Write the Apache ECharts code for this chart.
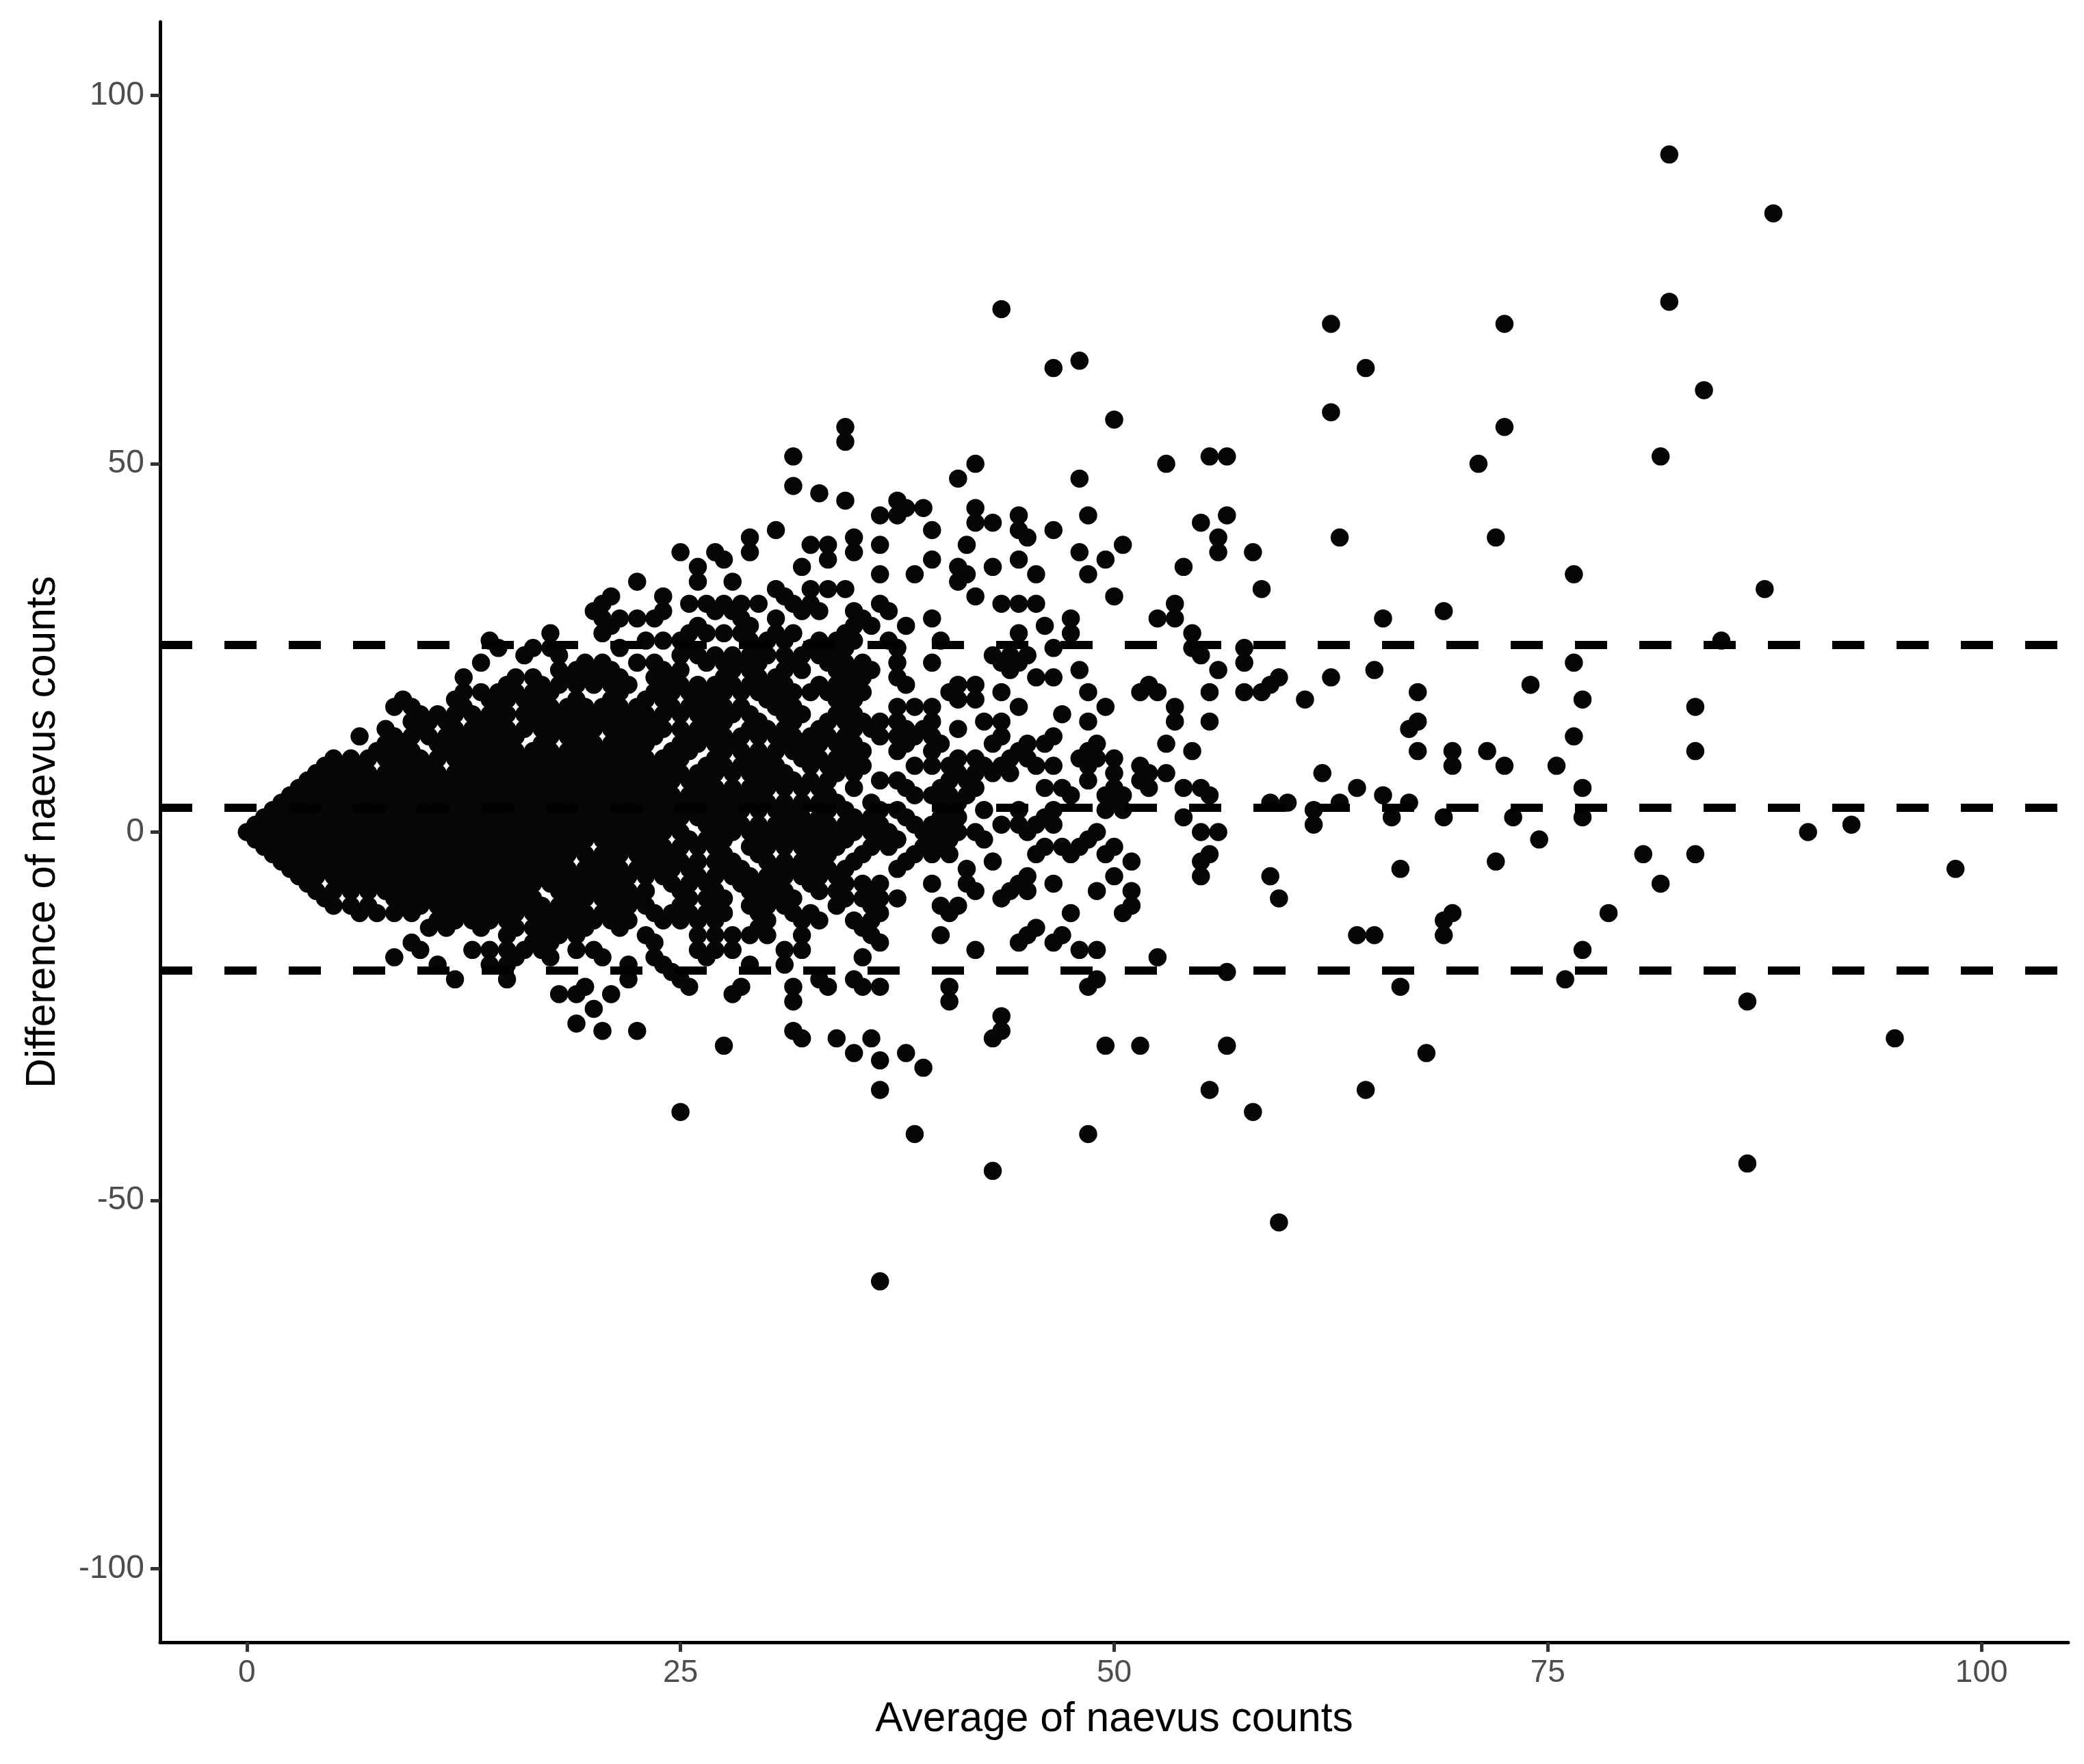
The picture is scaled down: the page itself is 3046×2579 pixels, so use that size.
<!DOCTYPE html>
<html><head><meta charset="utf-8">
<style>html,body{margin:0;padding:0;background:#fff}#c{width:3046px;height:2579px}</style>
<script src="https://cdn.jsdelivr.net/npm/echarts@6/dist/echarts.min.js"></script>
</head><body><div id="c"></div>
<script>
const xTicks=[0,25,50,75,100];
const yTicks=[-100,-50,0,50,100];
const xRange=[-5,105];
const yRange=[-110,110];
const xTitle='Average of naevus counts';
const yTitle='Difference of naevus counts';
const limits=[25.4,3.3,-18.8];
// Solid part of the cloud, read row by row: [difference, first average, last average]
const coreRows=[[16,10,32],[15,9.5,31.5],[14,8,31],[13,8.5,30.5],[12,8,31],[11,7.5,31.5],[10,5,35],[9,4.5,35.5],[8,4,35],[7,3.5,33.5],[6,3,33],[5,2.5,33.5],[4,2,34],[3,1.5,34.5],[2,1,35],[1,0.5,35.5],[0,0,36],[-1,0.5,34.5],[-2,1,34],[-3,1.5,34.5],[-4,2,33],[-5,2.5,34.5],[-6,3,33],[-7,3.5,32.5],[-8,4,31],[-9,4.5,31.5],[-10,5,31],[-11,6.5,27.5],[-12,11,27]];
// White specks visible inside the solid part: [average, difference]
const coreGaps=[[12.5,15],[15.5,15],[24.5,15],[25.5,15],[28.5,15],[30.5,15],[30,16],[9,14],[11,14],[28,14],[16.5,13],[20.5,13],[24.5,13],[10,12],[16,12],[18,12],[24,12],[29,12],[30,12],[10.5,11],[23.5,11],[26.5,11],[26,10],[28,10],[31,10],[7.5,9],[11.5,9],[25.5,9],[31.5,9],[32,8],[33,8],[27.5,7],[28.5,7],[25,6],[30.5,5],[31.5,5],[32.5,5],[32.5,3],[29,2],[30,2],[34,2],[25.5,1],[26,0],[24.5,-1],[28.5,-1],[20,-2],[28,-2],[25.5,-3],[26.5,-3],[28.5,-3],[30.5,-3],[31.5,-3],[34.5,-3],[19,-4],[22,-4],[29,-4],[26.5,-5],[29.5,-5],[25,-6],[4.5,-7],[22.5,-7],[23.5,-7],[27.5,-7],[31.5,-7],[17,-8],[24,-8],[26,-8],[28,-8],[5.5,-9],[6.5,-9],[7.5,-9],[17.5,-9],[23.5,-9],[24.5,-9],[28.5,-9],[8,-10],[20,-10],[24,-10],[26,-10],[28,-10],[10.5,-11],[22.5,-11],[16,-12],[23,-12]];
// All other points, read one by one: [difference, average, average, ...]
const pointRows=[[92,82],[84,88],[72,82],[71,43.5],[69,62.5,72.5],[64,48],[63,46.5,64.5],[60,84],[57,62.5],[56,50],[55,34.5,72.5],[53,34.5],[51,31.5,55.5,56.5,81.5],[50,42,53,71],[48,41,48],[47,31.5],[46,33],[45,34.5,37.5],[44,38,39,42],[43,36.5,37.5,44.5,48.5,56.5],[42,43,42,55],[41,30.5,39.5,44.5,46.5],[40,29,35,45,56,63,72],[39,32.5,33.5,36.5,41.5,50.5],[38,25,27,29,35,48,56,58],[37,27.5,33.5,39.5,44.5,49.5],[36,26,32,41,43,54],[35,36.5,38.5,41.5,45.5,48.5,76.5],[34,22.5,26,28,41],[33,30.5,32.5,33.5,34.5,58.5,87.5],[32,21,24,31,42,50],[31,20.5,25.5,26.5,27.5,28.5,29.5,31.5,32.5,36.5,43.5,44.5,45.5,53.5],[30,20,24,27,28,32,33,35,37,69],[29,20.5,21.5,22.5,23.5,28.5,30.5,35.5,39.5,47.5,52.5,53.5,65.5],[28,21,26,29,35,36,38,46],[27,17.5,20.5,25.5,26.5,27.5,28.5,30.5,31.5,34.5,44.5,47.5,54.5],[26,14,23,24,25,29,30,31,33,34,35,37,40,85],[25,14.5,16.5,17.5,21.5,25.5,29.5,32.5,33.5,34.5,37.5,46.5,54.5,57.5],[24,16,18,25,26,27,28,29,30,31,32,33,34,43,44,45,55],[23,13.5,19.5,20.5,22.5,23.5,26.5,27.5,28.5,29.5,31.5,33.5,34.5,35.5,37.5,39.5,43.5,44.5,57.5,76.5],[22,18,19,20,21,24,25,28,29,31,32,34,35,36,44,48,56,65],[21,12.5,15.5,16.5,18.5,19.5,20.5,21.5,23.5,24.5,27.5,29.5,30.5,34.5,35.5,37.5,45.5,46.5,59.5,62.5],[20,15,17,18,19,20,21,22,24,25,26,27,28,29,30,31,33,34,35,38,41,42,52,59,74],[19,12.5,13.5,14.5,15.5,16.5,17.5,21.5,23.5,24.5,25.5,26.5,27.5,28.5,29.5,30.5,31.5,32.5,33.5,34.5,35.5,40.5,43.5,48.5,51.5,52.5,55.5,57.5,58.5,67.5],[18,9,12,14,15,16,17,19,21,23,24,26,27,30,31,34,35,41,42,61,77],[17,8.5,9.5,12.5,14.5,16.5,17.5,18.5,19.5,20.5,21.5,22.5,24.5,25.5,26.5,27.5,28.5,30.5,31.5,34.5,37.5,38.5,39.5,44.5,49.5,53.5,83.5],[16,34,35,47],[15,33.5,34.5,35.5,36.5,37.5,39.5,42.5,43.5,48.5,53.5,55.5,67.5],[14,33,35,36,38,39,41,67],[13,6.5,31.5,32.5,33.5,34.5,36.5,37.5,38.5,39.5,43.5,46.5,76.5],[12,32,33,34,35,38,40,43,45,46,49,53],[11,32.5,34.5,35.5,37.5,39.5,44.5,48.5,54.5,67.5,69.5,71.5,83.5],[10,41,42,44,45,48,49,50],[9,38.5,39.5,40.5,42.5,43.5,45.5,46.5,48.5,51.5,69.5,72.5,75.5],[8,41,42,43,44,50,52,53,62],[7,36.5,37.5,40.5,41.5,48.5,51.5],[6,35,38,40,42,46,47,50,52,54,55,64,77],[5,38.5,39.5,40.5,41.5,47.5,49.5,50.5,55.5,65.5],[4,36,40,41,50,59,60,63,67],[3,36.5,37.5,40.5,42.5,44.5,46.5,49.5,50.5,61.5],[2,36,38,40,41,46,54,66,69,73,77],[1,36.5,38.5,39.5,40.5,43.5,44.5,45.5,46.5,61.5,92.5],[0,37,39,40,41,42,45,49,55,56,90],[-1,36.5,37.5,39.5,40.5,42.5,48.5,74.5],[-2,36,37,39,40,46,47,48,50],[-3,35.5,38.5,39.5,40.5,45.5,47.5,49.5,55.5,80.5,83.5],[-4,35,38,43,51,55,72],[-5,37.5,41.5,66.5,98.5],[-6,34,45,50,55,59],[-7,34.5,35.5,36.5,39.5,41.5,44.5,46.5,81.5],[-8,33,34,36,42,44,45,49,51],[-9,34.5,35.5,36.5,37.5,43.5,59.5],[-10,34,36,40,41,51],[-11,29.5,31.5,32.5,36.5,40.5,47.5,50.5,69.5,78.5],[-12,30,32,33,35,36,69],[-13,10.5,11.5,13.5,15.5,16.5,17.5,18.5,19.5,21.5,29.5,35.5,45.5],[-14,15,17,18,19,23,26,27,28,29,30,32,36,40,45,47,64,65,69],[-15,9.5,16.5,17.5,23.5,36.5,44.5,46.5],[-16,10,13,14,15,16,17,19,20,26,27,28,31,32,42,48,49,77],[-17,8.5,15.5,17.5,20.5,23.5,26.5,35.5,52.5],[-18,11,14,15,22,24,29,31],[-19,24.5,56.5],[-20,12,15,22,25,33,35,49,76],[-21,19.5,25.5,28.5,31.5,33.5,35.5,36.5,40.5,48.5,66.5],[-22,18,19,21,28],[-23,31.5,40.5,86.5],[-24,20],[-25,43.5],[-26,19],[-27,20.5,22.5,31.5,43.5],[-28,32,34,36,43,95],[-29,27.5,49.5,51.5,56.5],[-30,35,38,68],[-31,36.5],[-32,39],[-35,36.5,55.5,64.5],[-38,25,58],[-41,38.5,48.5],[-45,86.5],[-46,43],[-53,59.5],[-61,36.5]];
const gapSet=new Set(coreGaps.map(g=>g[0]+'|'+g[1]));
const points=[];
coreRows.forEach(([y,a,b])=>{for(let x=a;x<=b;x+=1){if(!gapSet.has(x+'|'+y))points.push([x,y]);}});
pointRows.forEach(r=>{for(let i=1;i<r.length;i++)points.push([r[i],r[0]]);});
const font='"Liberation Sans"';
const chart=echarts.init(document.getElementById('c'),null,{renderer:'canvas',width:3046,height:2579,devicePixelRatio:1});
const axisBase=(ticks,m,fs)=>({
  type:'value',splitLine:{show:false},
  axisLine:{show:true,onZero:false,lineStyle:{color:'#000',width:5}},
  axisTick:{show:true,length:14,customValues:ticks,lineStyle:{color:'#333',width:5}},
  axisLabel:{show:true,customValues:ticks,color:'#4D4D4D',fontFamily:font,fontSize:fs,margin:m},
  nameLocation:'middle',
  nameTextStyle:{color:'#000',fontFamily:font,fontSize:60.5}
});
chart.setOption({
  animation:false,backgroundColor:'#fff',
  grid:{left:234,right:23,top:32,bottom:178,containLabel:false},
  xAxis:Object.assign(axisBase(xTicks,22,46),{min:xRange[0],max:xRange[1],name:xTitle,nameGap:83}),
  yAxis:Object.assign(axisBase(yTicks,23,48),{min:yRange[0],max:yRange[1],name:yTitle,nameGap:140}),
  series:[
    {type:'scatter',data:points,symbol:'circle',symbolSize:26.5,silent:true,itemStyle:{color:'#050706',opacity:1},z:2},
    ...limits.map(v=>({type:'line',data:[[xRange[0],v],[xRange[1],v]],symbol:'none',silent:true,z:3,lineStyle:{color:'#000',width:12,type:[47,47]}}))
  ]
});
</script></body></html>
